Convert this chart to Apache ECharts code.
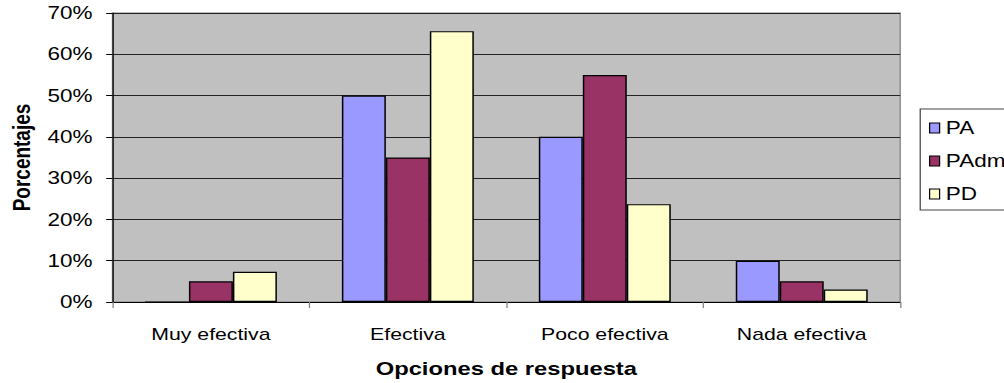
<!DOCTYPE html>
<html>
<head>
<meta charset="utf-8">
<script src="https://cdn.jsdelivr.net/npm/echarts@6/dist/echarts.min.js"></script>
<style>
  html, body { margin: 0; padding: 0; background: #fff; overflow: hidden; }
  #wrap { width: 1004px; height: 383px; overflow: hidden; }
  /* the chart is laid out narrower and widened horizontally */
  #chart { width: 803px; height: 383px; transform: scaleX(1.2503); transform-origin: 0 0; }
</style>
</head>
<body>
<div id="wrap"><div id="chart"></div></div>
<script>
// Respuestas por opción (porcentajes)
const categories = ['Muy efectiva', 'Efectiva', 'Poco efectiva', 'Nada efectiva'];
const seriesNames = ['PA', 'PAdm', 'PD'];
const valuesPA   = [0, 50, 40, 10];
const valuesPAdm = [5, 35, 55, 5];
const valuesPD   = [7.3, 65.6, 23.7, 3];
const yTicks = [0, 10, 20, 30, 40, 50, 60, 70];

const colors = ['#9999FF', '#993366', '#FFFFCC'];
const font = 'Liberation Sans, Arial, sans-serif';

const chart = echarts.init(document.getElementById('chart'), null, { renderer: 'svg' });

const seriesData = [valuesPA, valuesPAdm, valuesPD];

chart.setOption({
  animation: false,
  textStyle: { fontFamily: font, color: '#000' },
  grid: {
    left: 84, right: 83, top: 13, bottom: 80,
    show: true, backgroundColor: '#C0C0C0', borderColor: '#808080', borderWidth: 1
  },
  legend: {
    orient: 'vertical',
    left: 736, top: 109,
    data: seriesNames,
    icon: 'rect',
    itemWidth: 8, itemHeight: 10, itemGap: 15,
    padding: [10, 8, 7, 7],
    borderColor: '#444', borderWidth: 1, backgroundColor: '#fff',
    itemStyle: { borderColor: '#000', borderWidth: 1 },
    textStyle: { fontFamily: font, fontSize: 18, color: '#000' }
  },
  xAxis: {
    type: 'category',
    data: categories,
    name: 'Opciones de respuesta',
    nameLocation: 'middle',
    nameGap: 57,
    nameTextStyle: { fontFamily: font, fontSize: 19, fontWeight: 'bold', color: '#000' },
    axisLine: { lineStyle: { color: '#000', width: 1 } },
    axisTick: { show: true, length: 6, lineStyle: { color: '#808080' } },
    axisLabel: { fontFamily: font, fontSize: 17, color: '#000', margin: 24 }
  },
  yAxis: {
    type: 'value',
    min: yTicks[0], max: yTicks[yTicks.length - 1], interval: 10,
    name: 'Porcentajes',
    nameLocation: 'middle',
    nameGap: 61,
    nameTextStyle: { fontFamily: font, fontSize: 19, fontWeight: 'bold', color: '#000' },
    axisLine: { show: true, lineStyle: { color: '#000', width: 1 } },
    axisTick: { show: true, length: 5, lineStyle: { color: '#000' } },
    axisLabel: { fontFamily: font, fontSize: 18, color: '#000', margin: 16, formatter: '{value}%' },
    splitLine: { show: true, lineStyle: { color: '#222', width: 1 } }
  },
  series: seriesNames.map((name, i) => ({
    name: name,
    type: 'bar',
    data: seriesData[i],
    barGap: '0%',
    barCategoryGap: '33%',
    itemStyle: { color: colors[i], borderColor: '#000', borderWidth: 1.2 }
  }))
});
</script>
</body>
</html>
